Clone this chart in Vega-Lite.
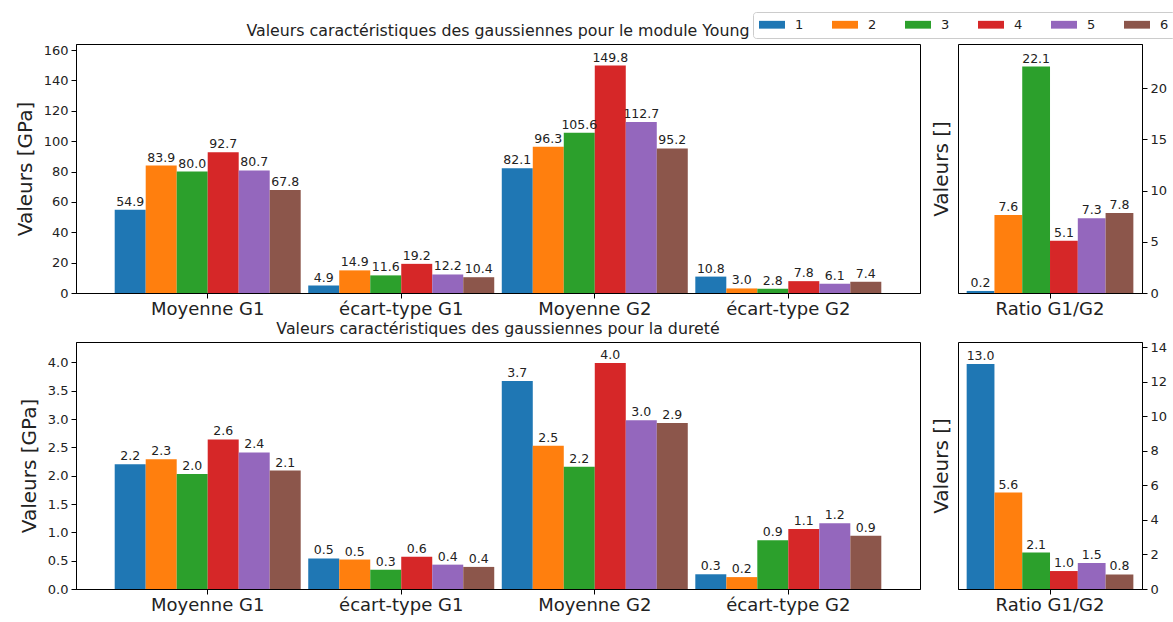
{
  "$schema": "https://vega.github.io/schema/vega-lite/v6.json",
  "background": "white",
  "padding": {"left": 14, "top": 11, "right": 2, "bottom": 2},
  "datasets": {
    "young": [
      {"cat": "Moyenne G1", "s": "1", "v": 54.9}, {"cat": "Moyenne G1", "s": "2", "v": 83.9}, {"cat": "Moyenne G1", "s": "3", "v": 80.0},
      {"cat": "Moyenne G1", "s": "4", "v": 92.7}, {"cat": "Moyenne G1", "s": "5", "v": 80.7}, {"cat": "Moyenne G1", "s": "6", "v": 67.8},
      {"cat": "écart-type G1", "s": "1", "v": 4.9}, {"cat": "écart-type G1", "s": "2", "v": 14.9}, {"cat": "écart-type G1", "s": "3", "v": 11.6},
      {"cat": "écart-type G1", "s": "4", "v": 19.2}, {"cat": "écart-type G1", "s": "5", "v": 12.2}, {"cat": "écart-type G1", "s": "6", "v": 10.4},
      {"cat": "Moyenne G2", "s": "1", "v": 82.1}, {"cat": "Moyenne G2", "s": "2", "v": 96.3}, {"cat": "Moyenne G2", "s": "3", "v": 105.6},
      {"cat": "Moyenne G2", "s": "4", "v": 149.8}, {"cat": "Moyenne G2", "s": "5", "v": 112.7}, {"cat": "Moyenne G2", "s": "6", "v": 95.2},
      {"cat": "écart-type G2", "s": "1", "v": 10.8}, {"cat": "écart-type G2", "s": "2", "v": 3.0}, {"cat": "écart-type G2", "s": "3", "v": 2.8},
      {"cat": "écart-type G2", "s": "4", "v": 7.8}, {"cat": "écart-type G2", "s": "5", "v": 6.1}, {"cat": "écart-type G2", "s": "6", "v": 7.4}
    ],
    "young_ratio": [
      {"cat": "Ratio G1/G2", "s": "1", "v": 0.2}, {"cat": "Ratio G1/G2", "s": "2", "v": 7.6}, {"cat": "Ratio G1/G2", "s": "3", "v": 22.1},
      {"cat": "Ratio G1/G2", "s": "4", "v": 5.1}, {"cat": "Ratio G1/G2", "s": "5", "v": 7.3}, {"cat": "Ratio G1/G2", "s": "6", "v": 7.8}
    ],
    "durete": [
      {"cat": "Moyenne G1", "s": "1", "v": 2.2}, {"cat": "Moyenne G1", "s": "2", "v": 2.29}, {"cat": "Moyenne G1", "s": "3", "v": 2.03},
      {"cat": "Moyenne G1", "s": "4", "v": 2.64}, {"cat": "Moyenne G1", "s": "5", "v": 2.41}, {"cat": "Moyenne G1", "s": "6", "v": 2.09},
      {"cat": "écart-type G1", "s": "1", "v": 0.54}, {"cat": "écart-type G1", "s": "2", "v": 0.52}, {"cat": "écart-type G1", "s": "3", "v": 0.34},
      {"cat": "écart-type G1", "s": "4", "v": 0.57}, {"cat": "écart-type G1", "s": "5", "v": 0.43}, {"cat": "écart-type G1", "s": "6", "v": 0.39},
      {"cat": "Moyenne G2", "s": "1", "v": 3.67}, {"cat": "Moyenne G2", "s": "2", "v": 2.53}, {"cat": "Moyenne G2", "s": "3", "v": 2.16},
      {"cat": "Moyenne G2", "s": "4", "v": 3.99}, {"cat": "Moyenne G2", "s": "5", "v": 2.98}, {"cat": "Moyenne G2", "s": "6", "v": 2.93},
      {"cat": "écart-type G2", "s": "1", "v": 0.26}, {"cat": "écart-type G2", "s": "2", "v": 0.21}, {"cat": "écart-type G2", "s": "3", "v": 0.86},
      {"cat": "écart-type G2", "s": "4", "v": 1.06}, {"cat": "écart-type G2", "s": "5", "v": 1.16}, {"cat": "écart-type G2", "s": "6", "v": 0.94}
    ],
    "durete_ratio": [
      {"cat": "Ratio G1/G2", "s": "1", "v": 13.02}, {"cat": "Ratio G1/G2", "s": "2", "v": 5.58}, {"cat": "Ratio G1/G2", "s": "3", "v": 2.11},
      {"cat": "Ratio G1/G2", "s": "4", "v": 1.04}, {"cat": "Ratio G1/G2", "s": "5", "v": 1.5}, {"cat": "Ratio G1/G2", "s": "6", "v": 0.84}
    ]
  },
  "vconcat": [
    {
      "hconcat": [
        {
          "width": 844, "height": 249,
          "data": {"name": "young"},
          "title": {"text": "Valeurs caractéristiques des gaussiennes pour le module Young", "frame": "group", "offset": 4},
          "encoding": {
            "x": {"field": "cat", "type": "nominal", "sort": null, "scale": {"paddingInner": 0.039, "paddingOuter": 0.2}, "axis": {"title": null}},
            "xOffset": {"field": "s", "type": "nominal", "scale": {"paddingInner": 0, "paddingOuter": 0, "range": [0, 186]}},
            "y": {"field": "v", "type": "quantitative", "scale": {"domain": [0, 164], "nice": false}, "axis": {"title": "Valeurs [GPa]", "values": [0, 20, 40, 60, 80, 100, 120, 140, 160]}}
          },
          "layer": [
            {"mark": "bar", "encoding": {"color": {"field": "s", "type": "nominal", "legend": {"title": null}}}},
            {"mark": {"type": "text", "baseline": "bottom", "dy": -1, "fontSize": 12.5, "color": "#222"}, "encoding": {"text": {"field": "v", "type": "quantitative", "format": ".1f"}}}
          ]
        },
        {
          "width": 184, "height": 249,
          "data": {"name": "young_ratio"},
          "encoding": {
            "x": {"field": "cat", "type": "nominal", "scale": {"paddingInner": 0, "paddingOuter": 0.052}, "axis": {"title": null}},
            "xOffset": {"field": "s", "type": "nominal", "scale": {"paddingInner": 0, "paddingOuter": 0, "range": [0, 166.7]}}
          },
          "layer": [
            {"mark": "bar", "encoding": {
              "color": {"field": "s", "type": "nominal", "legend": {"title": null}},
              "y": {"field": "v", "type": "quantitative", "scale": {"domain": [0, 24.3], "nice": false}, "axis": {"orient": "right", "title": null, "values": [0, 5, 10, 15, 20]}}}},
            {"mark": {"type": "text", "baseline": "bottom", "dy": -1, "fontSize": 12.5, "color": "#222"}, "encoding": {
              "text": {"field": "v", "type": "quantitative", "format": ".1f"},
              "y": {"field": "v", "type": "quantitative", "scale": {"domain": [0, 24.3], "nice": false}, "axis": {"orient": "left", "title": "Valeurs []", "labels": false, "ticks": false, "domain": false, "titlePadding": 7}}}}
          ],
          "resolve": {"axis": {"y": "independent"}}
        }
      ],
      "spacing": 9,
      "resolve": {"scale": {"xOffset": "independent"}}
    },
    {
      "hconcat": [
        {
          "width": 844, "height": 247,
          "data": {"name": "durete"},
          "title": {"text": "Valeurs caractéristiques des gaussiennes pour la dureté", "frame": "group", "offset": 4},
          "encoding": {
            "x": {"field": "cat", "type": "nominal", "sort": null, "scale": {"paddingInner": 0.039, "paddingOuter": 0.2}, "axis": {"title": null}},
            "xOffset": {"field": "s", "type": "nominal", "scale": {"paddingInner": 0, "paddingOuter": 0, "range": [0, 186]}},
            "y": {"field": "v", "type": "quantitative", "scale": {"domain": [0, 4.36], "nice": false}, "axis": {"title": "Valeurs [GPa]", "format": ".1f", "values": [0, 0.5, 1, 1.5, 2, 2.5, 3, 3.5, 4]}}
          },
          "layer": [
            {"mark": "bar", "encoding": {"color": {"field": "s", "type": "nominal", "legend": {"title": null}}}},
            {"mark": {"type": "text", "baseline": "bottom", "dy": -1, "fontSize": 12.5, "color": "#222"}, "encoding": {"text": {"field": "v", "type": "quantitative", "format": ".1f"}}}
          ]
        },
        {
          "width": 184, "height": 247,
          "data": {"name": "durete_ratio"},
          "encoding": {
            "x": {"field": "cat", "type": "nominal", "scale": {"paddingInner": 0, "paddingOuter": 0.052}, "axis": {"title": null}},
            "xOffset": {"field": "s", "type": "nominal", "scale": {"paddingInner": 0, "paddingOuter": 0, "range": [0, 166.7]}}
          },
          "layer": [
            {"mark": "bar", "encoding": {
              "color": {"field": "s", "type": "nominal", "legend": {"title": null}},
              "y": {"field": "v", "type": "quantitative", "scale": {"domain": [0, 14.3], "nice": false}, "axis": {"orient": "right", "title": null, "values": [0, 2, 4, 6, 8, 10, 12, 14]}}}},
            {"mark": {"type": "text", "baseline": "bottom", "dy": -1, "fontSize": 12.5, "color": "#222"}, "encoding": {
              "text": {"field": "v", "type": "quantitative", "format": ".1f"},
              "y": {"field": "v", "type": "quantitative", "scale": {"domain": [0, 14.3], "nice": false}, "axis": {"orient": "left", "title": "Valeurs []", "labels": false, "ticks": false, "domain": false, "titlePadding": 7}}}}
          ],
          "resolve": {"axis": {"y": "independent"}}
        }
      ],
      "spacing": 9,
      "resolve": {"scale": {"xOffset": "independent"}}
    }
  ],
  "spacing": 1,
  "resolve": {"scale": {"xOffset": "independent"}},
  "config": {
    "font": "DejaVu Sans",
    "view": {"stroke": "#000", "strokeWidth": 1},
    "range": {"category": ["#1f77b4", "#ff7f0e", "#2ca02c", "#d62728", "#9467bd", "#8c564b"]},
    "axis": {"domainColor": "#000", "tickColor": "#000", "labelColor": "#222", "titleColor": "#222", "labelFontSize": 13, "titleFontSize": 20, "titleFontWeight": "normal", "grid": false, "tickSize": 5, "labelPadding": 3, "titlePadding": 8},
    "axisX": {"labelFontSize": 18, "labelAngle": 0, "labelPadding": 2},
    "title": {"fontSize": 15.8, "fontWeight": "normal", "color": "#222", "anchor": "middle"},
    "legend": {"orient": "none", "legendX": 677, "legendY": -32, "direction": "horizontal", "symbolType": "M-1,-0.6H3V0.6H-1Z", "symbolSize": 169, "symbolStrokeWidth": 0, "symbolOpacity": 1, "labelOffset": 23, "labelFontSize": 13, "labelColor": "#222", "columnPadding": 28, "strokeColor": "#cccccc", "fillColor": "white", "padding": 6, "cornerRadius": 3}
  }
}
